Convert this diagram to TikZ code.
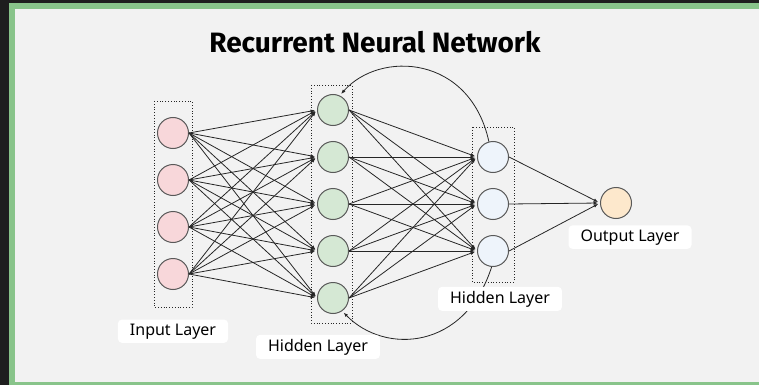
\documentclass[tikz,border=0pt]{standalone}
\usepackage{fontspec}
\setmainfont{Noto Sans}
\newfontfamily\titlefont{Fira Sans}
\usepackage{tikz}
\usetikzlibrary{arrows.meta}

\definecolor{bgdark}{HTML}{1E1E1E}
\definecolor{framegreen}{HTML}{88C48A}
\definecolor{paper}{HTML}{F2F2F2}
\definecolor{inred}{HTML}{F8D7DA}
\definecolor{hidgreen}{HTML}{D5E8D4}
\definecolor{hidblue}{HTML}{EEF4FB}
\definecolor{outorange}{HTML}{FDE8CC}

\begin{document}
\begin{tikzpicture}[x=1pt,y=-1pt,
        neuron/.style={circle,draw=black!65,line width=1pt,minimum size=31pt,inner sep=0pt},
        layerbox/.style={draw=black!85,dotted,line width=0.8pt},
        link/.style={-{Latex[length=4.5pt,width=3.5pt]},draw=black!85,line width=0.8pt,shorten >=2pt},
        layername/.style={fill=white,rounded corners=4pt,inner xsep=12pt,inner ysep=4pt,anchor=base,
            font=\fontsize{16}{19}\selectfont}]
    \useasboundingbox (0,0) rectangle (759,385);
    \fill[bgdark] (0,0) rectangle (759,385);
    \fill[framegreen] (9,3) rectangle (759,385);
    \fill[paper] (15,9) rectangle (759,382);

    \node[anchor=base,font=\titlefont\bfseries\fontsize{28}{32}\selectfont] (title) at (375,53)
        {Recurrent Neural Network};

    %layer boxes
    \draw[layerbox] (154,101) rectangle (192,307);
    \draw[layerbox] (311,85) rectangle (352,323);
    \draw[layerbox] (472,127) rectangle (514,282);

    %neurons
    \foreach \i in {1,...,4}
        \node[neuron,fill=inred] (in\i) at (173,{133+47*(\i-1)}) {};
    \foreach \i in {1,...,5}
        \node[neuron,fill=hidgreen] (ha\i) at (333,{110+47*(\i-1)}) {};
    \foreach \i in {1,2,3}
        \node[neuron,fill=hidblue] (hb\i) at (493,{157+47*(\i-1)}) {};
    \node[neuron,fill=outorange] (out) at (616,203) {};

    %connections
    \foreach \i in {1,...,4}
        \foreach \j in {1,...,5}
            \draw[link] (in\i.east) -- (ha\j.west);
    \foreach \i in {1,...,5}
        \foreach \j in {1,2,3}
            \draw[link] (ha\i.east) -- (hb\j.west);
    \foreach \i in {1,2,3}
        \draw[link] (hb\i.east) -- (out.west);

    %recurrent loops
    \draw[link] (hb1.105) .. controls (470,55) and (380,50) .. (ha1.65);
    \draw[link] (hb3.-95) .. controls (465,350) and (385,355) .. (ha5.-55);

    %labels
    \node[layername] (inlabel) at (173,335) {Input Layer};
    \node[layername] (halabel) at (318,351) {Hidden Layer};
    \node[layername] (hblabel) at (500,303) {Hidden Layer};
    \node[layername] (outlabel) at (630,241) {Output Layer};
\end{tikzpicture}
\end{document}
